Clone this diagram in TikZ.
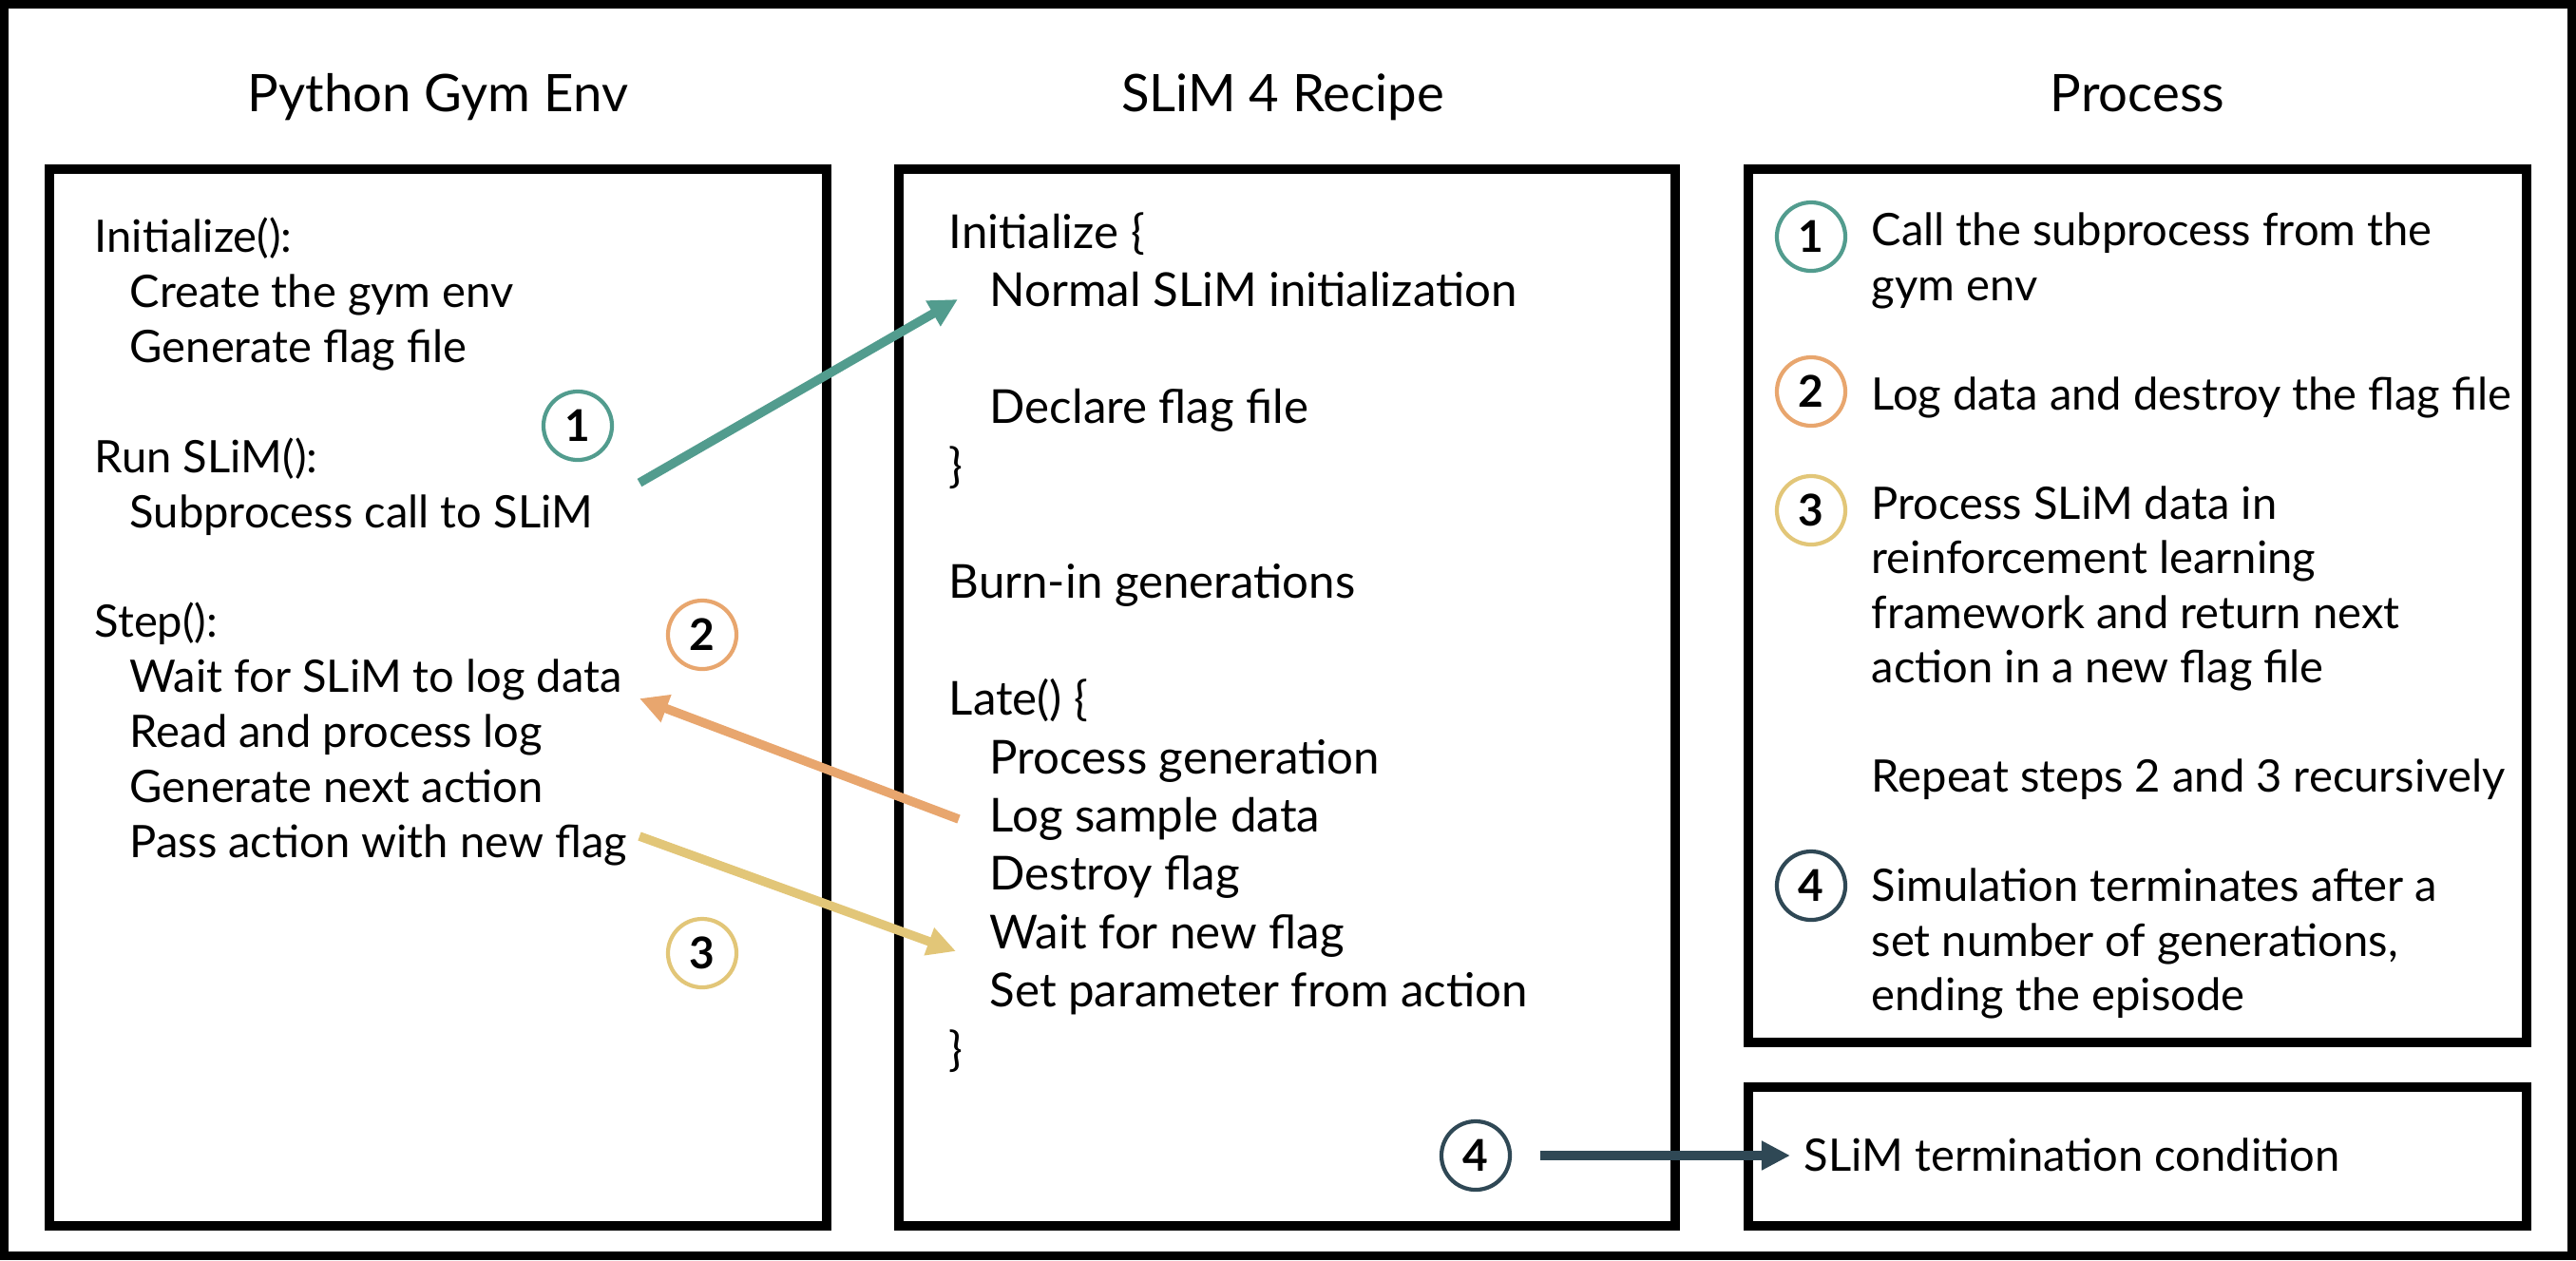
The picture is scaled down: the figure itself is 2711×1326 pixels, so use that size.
\documentclass[tikz,border=0pt]{standalone}
\usepackage{fontspec}
\setmainfont{Lato}
\usetikzlibrary{arrows.meta}

\definecolor{tealStep}{RGB}{82,156,142}
\definecolor{orangeStep}{RGB}{232,166,110}
\definecolor{yellowStep}{RGB}{226,198,120}
\definecolor{slateStep}{RGB}{47,72,85}

\tikzset{
	panel/.style={draw, rectangle, line width=2.85pt, outer sep=0pt, inner sep=0pt},
	heading/.style={anchor=base, inner sep=0pt, font=\fontsize{15.5}{18}\selectfont},
	entry/.style={anchor=base west, inner sep=0pt, font=\fontsize{13.4}{15}\selectfont},
	recipe/.style={entry, font=\fontsize{14}{16}\selectfont},
	badge/.style={circle, draw=#1, line width=1.2pt, minimum size=0.72cm, inner sep=0pt,
		font=\fontsize{13.1}{15}\selectfont\bfseries},
	link/.style={draw=#1, line width=2.7pt, -{Triangle[length=0.30cm, width=0.29cm]}}
}

\begin{document}
\begin{tikzpicture}[x=0.01cm, y=-0.01cm]
	\useasboundingbox (0,0) rectangle (2711,1326);
	\draw[line width=2.56pt] (4.5,4.5) rectangle (2706.5,1321.5);

	% Panels and their headings
	\node (gymPanel)			[panel, minimum width=8.18cm, minimum height=11.12cm]	at (461,734)		{};
	\node (recipePanel)		[panel, minimum width=8.17cm, minimum height=11.12cm]	at (1354.5,734)	{};
	\node (processPanel)	[panel, minimum width=8.19cm, minimum height=9.19cm]	at (2249.5,637.5)	{};
	\node (endPanel)			[panel, minimum width=8.19cm, minimum height=1.46cm]	at (2249.5,1217)	{};
	\node (gymTitle)			[heading]	at (461,117)		{Python Gym Env};
	\node (recipeTitle)		[heading]	at (1350,117)		{SLiM 4 Recipe};
	\node (processTitle)	[heading]	at (2249.5,117)	{Process};

	% Python gym environment
	\node (initGym)			[entry]	at (99,265)		{Initialize():};
	\node (createEnv)		[entry]	at (136,323)	{Create the gym env};
	\node (genFlag)			[entry]	at (136,381)	{Generate flag file};
	\node (runSlim)			[entry]	at (99,497)		{Run SLiM():};
	\node (subCall)			[entry]	at (136,555)	{Subprocess call to SLiM};
	\node (stepGym)			[entry]	at (99,670)		{Step():};
	\node (waitLog)			[entry]	at (136,728)	{Wait for SLiM to log data};
	\node (readLog)			[entry]	at (136,786)	{Read and process log};
	\node (genAction)		[entry]	at (136,844)	{Generate next action};
	\node (passAction)	[entry]	at (136,902)	{Pass action with new flag};

	% SLiM recipe
	\node (initRecipe)	[recipe]	at (998,261)	{Initialize \{};
	\node (normalInit)	[recipe]	at (1041,322)	{Normal SLiM initialization};
	\node (declFlag)		[recipe]	at (1041,445)	{Declare flag file};
	\node (closeInit)		[recipe]	at (998,507)	{\}};
	\node (burnIn)			[recipe]	at (998,629)	{Burn-in generations};
	\node (lateRecipe)	[recipe]	at (998,752)	{Late() \{};
	\node (procGen)			[recipe]	at (1041,814)	{Process generation};
	\node (logData)			[recipe]	at (1041,875)	{Log sample data};
	\node (destroyFlag)	[recipe]	at (1041,936)	{Destroy flag};
	\node (waitFlag)		[recipe]	at (1041,998)	{Wait for new flag};
	\node (setParam)		[recipe]	at (1041,1059)	{Set parameter from action};
	\node (closeLate)		[recipe]	at (998,1121)	{\}};

	% Process description
	\node (keyOne)			[badge=tealStep]		at (1906,249)	{1};
	\node (stepOneA)		[entry]	at (1969,258)		{Call the subprocess from the};
	\node (stepOneB)		[entry]	at (1969,316)		{gym env};
	\node (keyTwo)			[badge=orangeStep]	at (1906,412)	{2};
	\node (stepTwo)			[entry]	at (1969,431)		{Log data and destroy the flag file};
	\node (keyThree)		[badge=yellowStep]	at (1906,537)	{3};
	\node (stepThreeA)	[entry]	at (1969,546)		{Process SLiM data in};
	\node (stepThreeB)	[entry]	at (1969,603)		{reinforcement learning};
	\node (stepThreeC)	[entry]	at (1969,661)		{framework and return next};
	\node (stepThreeD)	[entry]	at (1969,718)		{action in a new flag file};
	\node (repeatSteps)	[entry]	at (1969,833)		{Repeat steps 2 and 3 recursively};
	\node (keyFour)			[badge=slateStep]		at (1906,932)	{4};
	\node (stepFourA)		[entry]	at (1969,948)		{Simulation terminates after a};
	\node (stepFourB)		[entry]	at (1969,1006)	{set number of generations,};
	\node (stepFourC)		[entry]	at (1969,1063)	{ending the episode};
	\node (endCond)			[entry]	at (1898,1232)	{SLiM termination condition};

	% Step markers beside the connectors
	\node (markOne)			[badge=tealStep]		at (608,448)		{1};
	\node (markTwo)			[badge=orangeStep]	at (739,668)		{2};
	\node (markThree)		[badge=yellowStep]	at (739,1003)		{3};
	\node (markFour)		[badge=slateStep]		at (1553,1216)	{4};

	% Connectors between the panels
	\coordinate (callStart)		at (673,508);
	\coordinate (callEnd)			at (1008,315);
	\coordinate (logStart)		at (1009,862);
	\coordinate (logEnd)			at (673,735);
	\coordinate (passStart)		at (673,880);
	\coordinate (passEnd)			at (1006,1001);
	\draw[link=tealStep]		(callStart) -- (callEnd);
	\draw[link=orangeStep]	(logStart) -- (logEnd);
	\draw[link=yellowStep]	(passStart) -- (passEnd);
	\draw[link=slateStep, shorten <=0.30cm, shorten >=0.14cm]
													(markFour) -- (markFour -| endCond.west);
\end{tikzpicture}
\end{document}
